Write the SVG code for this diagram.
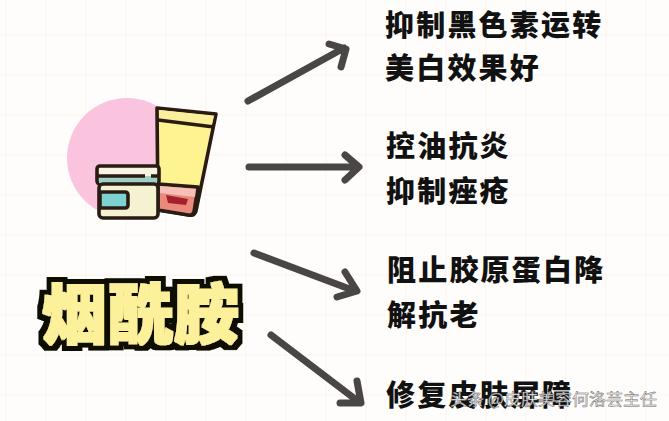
<svg xmlns="http://www.w3.org/2000/svg" width="669" height="421" viewBox="0 0 669 421">
<defs>
<style>
text{font-family:"Noto Sans CJK SC","Noto Sans",sans-serif}
.t{font-size:29px;font-weight:900;fill:#111;letter-spacing:2.2px}
.c{fill:none;stroke:#4a4646;stroke-width:7;stroke-linecap:round;stroke-linejoin:round}
.o{stroke:#2a1c14;stroke-width:3.6;stroke-linejoin:round}
.g{stroke:#fbf3ee;stroke-width:1;fill:none}
</style>
<filter id="puff" x="-10%" y="-20%" width="120%" height="140%">
<feMorphology in="SourceAlpha" operator="dilate" radius="5.5" result="d"/>
<feFlood flood-color="#0c0a06"/>
<feComposite in2="d" operator="in" result="edge"/>
<feMorphology in="SourceGraphic" operator="dilate" radius="1.1" result="f"/>
<feMerge><feMergeNode in="edge"/><feMergeNode in="f"/></feMerge>
</filter>
</defs>
<rect width="669" height="421" fill="#fffdfb"/>
<g id="grid">
<path class="g" d="M6 0V421M46 0V421M86 0V421M126 0V421M166 0V421M206 0V421M246 0V421M286 0V421M326 0V421M366 0V421M406 0V421M446 0V421M486 0V421M526 0V421M566 0V421M606 0V421M646 0V421"/>
<path class="g" d="M0 35H669M0 75H669M0 115H669M0 155H669M0 195H669M0 235H669M0 275H669M0 315H669M0 355H669M0 395H669"/>
</g>
<g id="icon">
<circle cx="127" cy="158" r="60" fill="#fbc4de"/>
<path class="o" d="M157 108L216 114L196 211Q194 216 190 215L158 210Z" fill="#fdf391"/>
<path d="M159 110L214 116L212 124L159 118Z" fill="#fbee9c"/>
<path class="o" d="M158 120L214 127" fill="none"/>
<path class="o" d="M158 184L198 187L194 212Q192 216 188 215L158 210Z" fill="#e98a7c"/>
<path d="M160 186L196 189L195 197L160 193Z" fill="#f6c0b8"/>
<path d="M166 195L188 199L186 205L168 203Z" fill="#a5202c"/>
<rect class="o" x="97" y="166" width="62" height="18" rx="3" fill="#f8f4e2"/>
<rect x="99" y="176" width="58" height="7" fill="#9fd0c4"/>
<path class="o" d="M98 176H145M151 176H158" fill="none"/>
<rect class="o" x="99" y="184" width="59" height="34" rx="4" fill="#f5f2d2"/>
<path class="o" d="M100 192H125Q128 192 128 195V205Q128 208 125 208H100Z" fill="#7fd2d2"/>
</g>
<g id="title">
<text x="42" y="338" font-size="65" font-weight="900" fill="#fdf09a" filter="url(#puff)" textLength="197" lengthAdjust="spacing">烟酰胺</text>
</g>
<g id="connectors">
<path class="c" d="M248 101L344 48M329 44L346 49L341 67"/>
<path class="c" d="M249 167H358M345 155L359 167L345 180"/>
<path class="c" d="M254 253L355 291M345 272L357 291L337 297"/>
<path class="c" d="M271 335L359 402M357 381L361 403L340 403"/>
</g>
<g id="label1"><text class="t" x="385" y="36">抑制黑色素运转</text><text class="t" x="385" y="79">美白效果好</text></g>
<g id="label2"><text class="t" x="386" y="157">控油抗炎</text><text class="t" x="386" y="202">抑制痤疮</text></g>
<g id="label3"><text class="t" x="387" y="281">阻止胶原蛋白降</text><text class="t" x="387" y="326">解抗老</text></g>
<g id="label4"><text class="t" x="386" y="406">修复皮肤屏障</text></g>
<g id="watermark"><text x="450" y="405" font-size="16" fill="#f4f4f4" stroke="#666" stroke-width=".45" textLength="207" lengthAdjust="spacingAndGlyphs">头条 @皮肤美容何洛芸主任</text></g>
</svg>
